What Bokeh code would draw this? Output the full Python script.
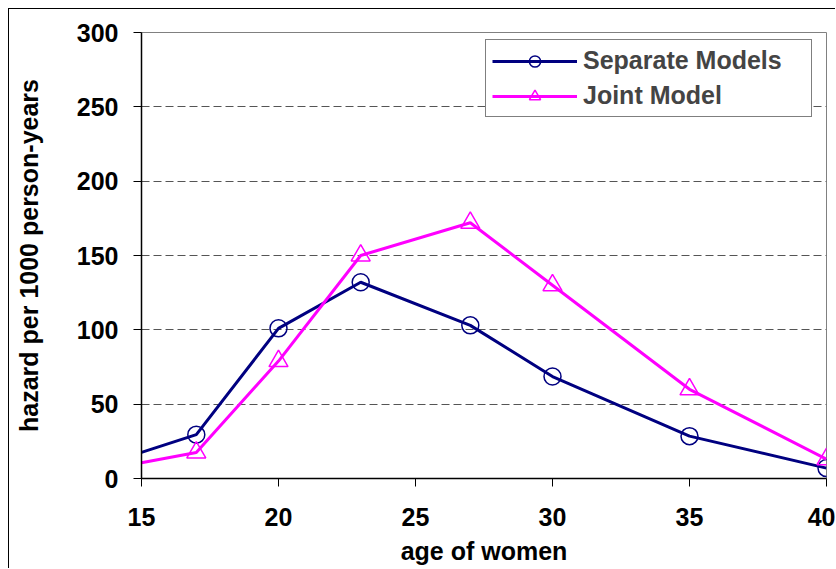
from bokeh.plotting import figure
from bokeh.models import Legend, LegendItem, FixedTicker, Range1d
from bokeh.embed import file_html
from bokeh.resources import INLINE

# data
line_age = [15, 17, 20, 23, 27, 30, 35, 40]
separate_line = [17.6, 29.5, 101, 132, 103, 68.6, 28.5, 7]
joint_line = [10.6, 17.5, 79, 150, 172, 130, 60, 13]
marker_age = [17, 20, 23, 27, 30, 35, 40]
separate_pts = [29.5, 101, 132, 103, 68.6, 28.5, 7]
joint_pts = [17.5, 79, 150, 172, 130, 60, 13]
x_ticks = [15, 20, 25, 30, 35, 40]
y_ticks = [0, 50, 100, 150, 200, 250, 300]
grid_ticks = [50, 100, 150, 200, 250]

FONT = "Liberation Sans"
FS = "25px"

p = figure(width=827, height=560, output_backend="svg", toolbar_location=None,
           x_range=Range1d(15, 40), y_range=Range1d(0, 300),
           min_border_left=132, min_border_right=10, min_border_top=23, min_border_bottom=91)
p.styles = {"margin-left": "8px", "margin-top": "8px",
            "border-left": "1px solid black", "border-top": "1px solid black"}

p.outline_line_color = "#808080"
p.outline_line_width = 1

sep_l = p.line(line_age, separate_line, line_color="#000080", line_width=3)
sep_m = p.scatter(marker_age, separate_pts, marker="circle", size=17, line_color="#000080",
                  line_width=1.5, fill_alpha=0)
joi_l = p.line(line_age, joint_line, line_color="#FF00FF", line_width=3)
joi_m = p.scatter(marker_age, joint_pts, marker="triangle", size=19, line_color="#FF00FF",
                  line_width=1.5, fill_alpha=0)

p.xgrid.visible = False
p.ygrid.ticker = FixedTicker(ticks=grid_ticks)
p.ygrid.grid_line_color = "#555555"
p.ygrid.grid_line_dash = "8 4"
p.ygrid.grid_line_width = 1

for ax in (p.xaxis[0], p.yaxis[0]):
    ax.axis_line_color = "black"
    ax.axis_line_width = 1.5
    ax.major_tick_line_color = "black"
    ax.major_tick_in = 0
    ax.major_tick_out = 8
    ax.minor_tick_line_color = None
    ax.major_label_text_font = FONT
    ax.major_label_text_font_style = "bold"
    ax.major_label_text_font_size = FS
    ax.major_label_text_color = "black"
    ax.axis_label_text_font = FONT
    ax.axis_label_text_font_style = "bold"
    ax.axis_label_text_font_size = FS
    ax.axis_label_text_color = "black"

p.xaxis.ticker = FixedTicker(ticks=x_ticks)
p.yaxis.ticker = FixedTicker(ticks=y_ticks)
p.xaxis.axis_label = "age of women"
p.yaxis.axis_label = "hazard per 1000 person-years"
p.xaxis.major_label_standoff = 21
p.xaxis.axis_label_standoff = 8
p.yaxis.major_label_standoff = 15
p.yaxis.axis_label_standoff = 31

legend = Legend(items=[
    LegendItem(label="Separate Models", renderers=[sep_l, sep_m]),
    LegendItem(label="Joint Model", renderers=[joi_l, joi_m]),
], location=(344, 361))
legend.margin = 0
legend.padding = 6
legend.spacing = 6
legend.glyph_width = 85
legend.glyph_height = 28
legend.label_standoff = 6
legend.label_width = 222
legend.label_text_font = FONT
legend.label_text_font_style = "bold"
legend.label_text_font_size = FS
legend.border_line_color = "black"
legend.border_line_width = 1
legend.background_fill_color = "white"
legend.background_fill_alpha = 1
p.add_layout(legend, "center")

open("out.html", "w").write(file_html(p, INLINE))
